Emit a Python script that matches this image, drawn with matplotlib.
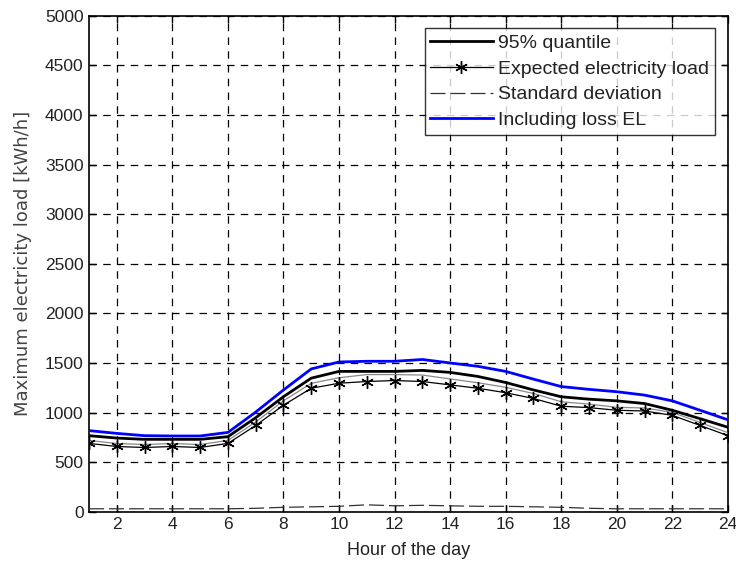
import numpy as np
import matplotlib
matplotlib.use("Agg")
import matplotlib.pyplot as plt

plt.rcParams['font.family'] = ['Liberation Sans', 'DejaVu Sans']

hours = list(range(1, 25))
quantile_95 = [767, 743, 730, 730, 730, 757, 948, 1160, 1347, 1415, 1415, 1415,
               1425, 1405, 1364, 1303, 1228, 1159, 1135, 1118, 1091, 1023, 938, 852]
expected = [689, 658, 648, 658, 648, 689, 870, 1074, 1245, 1296, 1313, 1323,
            1313, 1279, 1245, 1200, 1142, 1064, 1050, 1023, 1016, 972, 870, 767]
std_dev = [30, 30, 30, 30, 30, 30, 35, 45, 50, 55, 70, 60,
           65, 60, 55, 55, 50, 45, 35, 30, 30, 30, 30, 30]
incl_loss = [818, 790, 767, 764, 764, 800, 1005, 1228, 1440, 1510, 1517, 1517,
             1535, 1500, 1466, 1415, 1337, 1262, 1234, 1210, 1176, 1118, 1023, 927]

x_ticks = list(range(2, 25, 2))
y_ticks = list(range(0, 5001, 500))

TXT = '#222222'

fig = plt.figure(figsize=(7.36, 5.63), dpi=100)
ax = fig.add_axes([0.121, 0.091, 0.868, 0.881])

upper = np.array(expected) + np.array(std_dev)

ax.plot(hours, upper, color='#888888', lw=0.9, zorder=3)
ax.plot(hours, quantile_95, color='black', lw=2.0, zorder=4, label='95% quantile')
ax.plot(hours, expected, color='black', lw=0.9, marker=(6, 2, 0), markersize=9,
        markeredgewidth=1.0, zorder=4, label='Expected electricity load')
ax.plot(hours, std_dev, color='#333333', lw=0.9, dashes=(12, 4), zorder=3,
        label='Standard deviation')
ax.plot(hours, incl_loss, color='#0000ff', lw=2.0, zorder=5, label='Including loss EL')

ax.set_xlim(1, 24)
ax.set_ylim(0, 5000)
ax.set_xticks(x_ticks)
ax.set_yticks(y_ticks)
ax.grid(True, color='black', linestyle=(0, (6, 5)), linewidth=0.9)
ax.tick_params(direction='in', top=True, right=True, length=5, labelsize=12.5,
               labelcolor=TXT, width=1.0, pad=4)
for s in ax.spines.values():
    s.set_linewidth(1.2)

ax.set_xlabel('Hour of the day', fontsize=13, color=TXT, labelpad=7)
ax.set_ylabel('Maximum electricity load [kWh/h]', fontsize=13, color='#444444',
              family=['DejaVu Sans'], labelpad=9)

leg = ax.legend(loc='upper right', fontsize=14, frameon=True, fancybox=False,
                edgecolor='black', borderaxespad=0.65, handlelength=3.2,
                handletextpad=0.3, labelspacing=0.42, borderpad=0.3)
leg.get_frame().set_linewidth(1.0)
for t in leg.get_texts():
    t.set_color(TXT)

fig.savefig('out.png', dpi=100)
